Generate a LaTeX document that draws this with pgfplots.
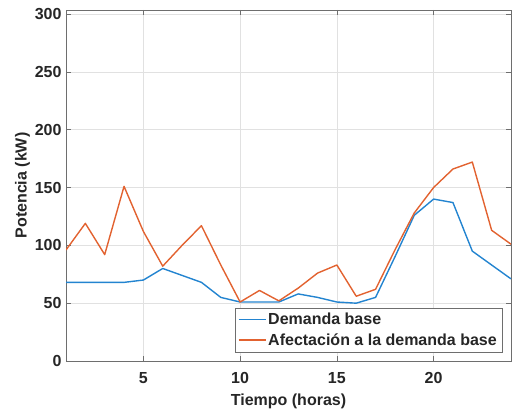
\documentclass[border=0pt]{standalone}
\usepackage{fontspec}
\setmainfont{Liberation Sans}
\usepackage{pgfplots}
\pgfplotsset{compat=1.18}
\definecolor{mblue}{RGB}{35,132,208}
\definecolor{morange}{RGB}{226,98,48}
\definecolor{axgray}{RGB}{38,38,38}
\definecolor{linegray}{RGB}{110,110,110}
\definecolor{gridgray}{RGB}{225,225,225}
\begin{document}
\begin{tikzpicture}
\begin{axis}[
  scale only axis,
  width=445pt, height=351pt,
  xmin=1, xmax=24, ymin=0, ymax=303.5,
  xtick={5,10,15,20}, ytick={0,50,...,300},
  grid=major,
  major grid style={gridgray, line width=0.7pt},
  axis line style={linegray, line width=0.9pt},
  tick style={linegray, line width=0.7pt},
  tick align=inside,
  major tick length=5pt,
  /pgf/number format/assume math mode=true,
  ticklabel style={font=\bfseries\fontsize{16}{16}\selectfont, text=axgray},
  label style={font=\bfseries\fontsize{16}{16}\selectfont, text=axgray},
  xticklabel style={yshift=-8pt},
  yticklabel style={xshift=-1pt},
  xlabel={Tiempo (horas)},
  ylabel={Potencia (kW)},
  xlabel style={yshift=-3pt},
  ylabel style={yshift=-2pt},
  legend style={at={(0.9797,0.0257)}, anchor=south east, draw=linegray,
    font=\bfseries\fontsize{16}{18}\selectfont, text=axgray, inner sep=3pt,
    row sep=3.5pt, cells={anchor=west}},
  legend image code/.code={\draw[#1, line width=1.4pt] (0pt,0pt) -- (27pt,0pt);},
  every axis plot/.append style={line width=1.4pt, line join=round},
]
\addplot[mblue] coordinates {
(1,68)(2,68)(3,68)(4,68)(5,70)(6,80)(7,74)(8,68)(9,55)(10,51)(11,51)(12,51)
(13,58)(14,55)(15,51)(16,50)(17,55)(18,90)(19,126)(20,140)(21,137)(22,95)(23,83)(24,71)};
\addlegendentry{Demanda base}
\addplot[morange] coordinates {
(1,96)(2,119)(3,92)(4,151)(5,112)(6,82)(7,100)(8,117)(9,83)(10,51)(11,61)(12,52)
(13,63)(14,76)(15,83)(16,56)(17,62)(18,96)(19,128)(20,150)(21,166)(22,172)(23,113)(24,101)};
\addlegendentry{Afectación a la demanda base}
\end{axis}
\pgfresetboundingbox
\useasboundingbox ([shift={(-66pt,-48pt)}]current axis.south west) rectangle ([shift={(1pt,10pt)}]current axis.north east);
\end{tikzpicture}
\end{document}
